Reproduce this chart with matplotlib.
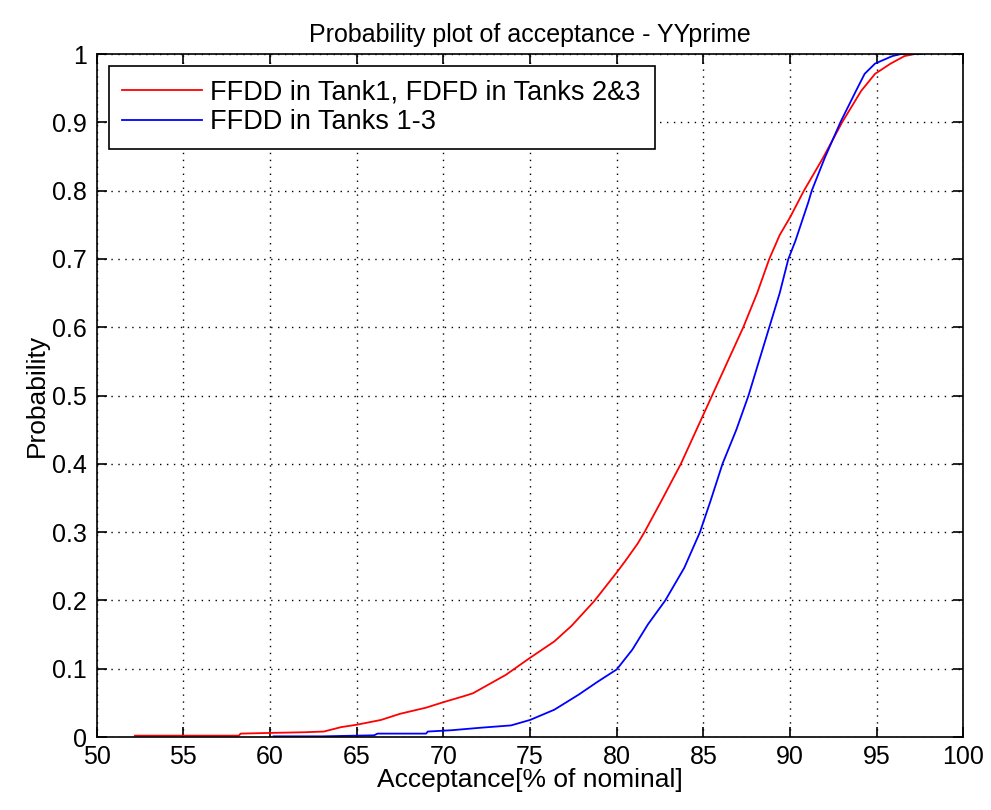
import numpy as np
import matplotlib.pyplot as plt

plt.rcParams['font.family'] = ['Liberation Sans', 'DejaVu Sans']

# red: FFDD in Tank1, FDFD in Tanks 2&3
red_x = [52.2, 55.0, 58.2, 58.3, 60.0, 62.0, 63.1, 64.1, 65.0, 66.4, 67.5, 69.0,
         70.0, 71.2, 71.7, 73.6, 75.0, 76.4, 77.4, 78.7, 80.0, 80.5, 81.2, 81.6,
         82.6, 83.7, 84.6, 85.5, 86.4, 87.3, 88.1, 88.8, 89.4, 90.0, 90.8,
         91.9, 93.0, 94.1, 94.9, 95.8, 96.6, 97.2]
red_y = [0.002, 0.002, 0.002, 0.005, 0.006, 0.007, 0.008, 0.0145, 0.018, 0.025, 0.034, 0.043,
         0.051, 0.060, 0.064, 0.091, 0.116, 0.140, 0.163, 0.199, 0.241, 0.258, 0.283, 0.300,
         0.347, 0.400, 0.450, 0.500, 0.550, 0.600, 0.650, 0.700, 0.735, 0.761, 0.800,
         0.848, 0.900, 0.946, 0.971, 0.986, 0.997, 1.0]

# blue: FFDD in Tanks 1-3
blue_x = [60.2, 63.0, 66.0, 66.2, 69.0, 69.1, 70.5, 72.1, 73.9, 75.0, 76.4, 77.8,
          78.9, 80.0, 80.9, 81.8, 82.8, 83.9, 84.8, 85.4, 86.1, 86.9, 87.6,
          88.2, 88.8, 89.4, 89.9, 90.3, 91.05, 91.25, 92.0, 92.9, 93.8, 94.3, 94.9,
          95.9, 96.4, 97.6]
blue_y = [0.001, 0.001, 0.0025, 0.005, 0.005, 0.008, 0.010, 0.0135, 0.017, 0.025, 0.040, 0.062,
          0.081, 0.099, 0.128, 0.165, 0.200, 0.248, 0.300, 0.345, 0.400, 0.450, 0.500,
          0.550, 0.600, 0.650, 0.700, 0.726, 0.783, 0.800, 0.848, 0.900, 0.946, 0.971, 0.986,
          0.997, 1.0, 1.0]

fig = plt.figure(figsize=(9.91, 8.10), dpi=100)
ax = fig.add_axes([0.0976, 0.0901, 0.8746, 0.8432])

ax.plot(red_x, red_y, color='red', lw=1.3, label='FFDD in Tank1, FDFD in Tanks 2&3')
ax.plot(blue_x, blue_y, color='blue', lw=1.3, label='FFDD in Tanks 1-3')

ax.set_xlim(50, 100)
ax.set_ylim(0, 1)
ax.set_xticks(np.arange(50, 101, 5))
ax.set_yticks(np.arange(0, 1.01, 0.1))
ax.set_yticklabels(['0', '0.1', '0.2', '0.3', '0.4', '0.5', '0.6', '0.7', '0.8', '0.9', '1'])
ax.grid(True, color='black', linestyle=(0, (1, 4)), lw=1)
ax.tick_params(direction='in', top=True, right=True, labelsize=18, length=7, width=1.2)
ax.tick_params(axis='x', pad=6)
ax.tick_params(axis='y', pad=7)
for s in ax.spines.values():
    s.set_linewidth(1.2)

ax.set_title('Probability plot of acceptance - YYprime', fontsize=18, pad=9)
ax.set_xlabel('Acceptance[% of nominal]', fontsize=19, labelpad=-1)
ax.set_ylabel('Probability', fontsize=19, labelpad=2)

leg = ax.legend(loc='upper left', fontsize=19.5, fancybox=False, edgecolor='black',
                framealpha=1, borderaxespad=0.45, borderpad=0.5, handlelength=2.95,
                handletextpad=0.3, labelspacing=0.12)
leg.get_frame().set_linewidth(1.2)

fig.savefig('out.png', dpi=100, facecolor='white')
